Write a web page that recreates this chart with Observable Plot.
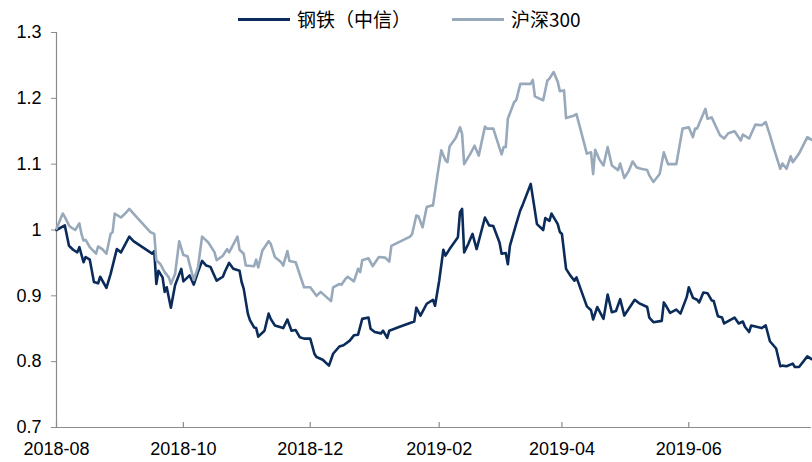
<!DOCTYPE html>
<html><head><meta charset="utf-8">
<script src="https://cdn.jsdelivr.net/npm/d3@7"></script>
<script src="https://cdn.jsdelivr.net/npm/@observablehq/plot@0.6"></script>
<style>
body{margin:0;background:#fff;font-family:"Liberation Sans",Arial,"Noto Sans CJK SC",sans-serif;}
#wrap{position:relative;width:812px;height:462px;}
#legend{position:absolute;top:6px;left:238px;display:flex;align-items:center;font-size:19px;color:#000;font-family:"Noto Sans CJK SC","Liberation Sans",sans-serif;line-height:26px;}
#legend .item{display:flex;align-items:center;}
#legend .sw{display:inline-block;width:52px;height:3px;margin-right:7px;}
</style></head>
<body><div id="wrap"><div id="legend"></div></div>
<script>
const seriesNames = ["钢铁（中信）", "沪深300"];
const seriesColors = ["#0b2c5a", "#98a9bb"];
const yTicks = [0.7, 0.8, 0.9, 1.0, 1.1, 1.2, 1.3];
const xTicks = ["2018-08-01","2018-10-01","2018-12-01","2019-02-01","2019-04-01","2019-06-01"];
const xDomain = ["2018-08-01","2019-07-30"];

const steelDates = ["2018-08-01","2018-08-05","2018-08-07","2018-08-09","2018-08-11","2018-08-12","2018-08-14","2018-08-15","2018-08-17","2018-08-19","2018-08-21","2018-08-22","2018-08-25","2018-08-27","2018-08-30","2018-09-01","2018-09-05","2018-09-07","2018-09-16","2018-09-17","2018-09-18","2018-09-19","2018-09-21","2018-09-22","2018-09-23","2018-09-25","2018-09-27","2018-09-30","2018-10-01","2018-10-04","2018-10-06","2018-10-08","2018-10-10","2018-10-12","2018-10-14","2018-10-17","2018-10-20","2018-10-21","2018-10-23","2018-10-25","2018-10-28","2018-10-29","2018-10-30","2018-11-01","2018-11-02","2018-11-04","2018-11-05","2018-11-06","2018-11-09","2018-11-11","2018-11-12","2018-11-14","2018-11-16","2018-11-18","2018-11-20","2018-11-22","2018-11-24","2018-11-26","2018-11-28","2018-12-01","2018-12-03","2018-12-04","2018-12-07","2018-12-10","2018-12-12","2018-12-15","2018-12-17","2018-12-20","2018-12-22","2018-12-24","2018-12-26","2018-12-29","2018-12-30","2019-01-01","2019-01-04","2019-01-05","2019-01-07","2019-01-08","2019-01-13","2019-01-20","2019-01-21","2019-01-23","2019-01-26","2019-01-29","2019-01-30","2019-02-01","2019-02-03","2019-02-04","2019-02-06","2019-02-10","2019-02-11","2019-02-12","2019-02-13","2019-02-15","2019-02-17","2019-02-19","2019-02-23","2019-02-25","2019-02-27","2019-03-02","2019-03-03","2019-03-05","2019-03-06","2019-03-07","2019-03-10","2019-03-12","2019-03-13","2019-03-17","2019-03-18","2019-03-20","2019-03-23","2019-03-24","2019-03-26","2019-03-27","2019-03-30","2019-03-31","2019-04-01","2019-04-03","2019-04-05","2019-04-07","2019-04-08","2019-04-13","2019-04-15","2019-04-16","2019-04-18","2019-04-21","2019-04-23","2019-04-25","2019-04-27","2019-04-29","2019-05-01","2019-05-06","2019-05-08","2019-05-12","2019-05-13","2019-05-15","2019-05-19","2019-05-20","2019-05-21","2019-05-23","2019-05-26","2019-05-28","2019-05-31","2019-06-01","2019-06-03","2019-06-05","2019-06-06","2019-06-08","2019-06-10","2019-06-12","2019-06-13","2019-06-15","2019-06-17","2019-06-18","2019-06-23","2019-06-25","2019-06-27","2019-06-28","2019-06-30","2019-07-01","2019-07-06","2019-07-08","2019-07-10","2019-07-13","2019-07-15","2019-07-16","2019-07-18","2019-07-21","2019-07-22","2019-07-24","2019-07-28","2019-07-30"];
const steelValues = [1.000,1.007,0.976,0.970,0.966,0.974,0.951,0.959,0.955,0.921,0.919,0.929,0.912,0.933,0.971,0.966,0.990,0.983,0.964,0.968,0.918,0.938,0.928,0.906,0.913,0.882,0.916,0.941,0.922,0.931,0.917,0.936,0.953,0.946,0.944,0.923,0.929,0.937,0.950,0.941,0.938,0.921,0.911,0.873,0.863,0.852,0.851,0.838,0.847,0.873,0.865,0.855,0.853,0.851,0.864,0.847,0.848,0.837,0.835,0.835,0.812,0.807,0.803,0.794,0.812,0.823,0.825,0.832,0.840,0.841,0.865,0.867,0.850,0.845,0.843,0.847,0.836,0.847,0.853,0.861,0.882,0.870,0.888,0.894,0.885,0.923,0.970,0.961,0.971,0.989,1.027,1.032,0.966,0.979,0.994,0.971,1.019,1.007,1.006,0.981,0.964,0.965,0.948,0.976,1.009,1.030,1.037,1.070,1.050,1.009,1.000,1.018,1.014,1.025,1.009,0.997,0.994,0.941,0.931,0.923,0.928,0.884,0.878,0.864,0.883,0.865,0.902,0.875,0.877,0.895,0.870,0.894,0.889,0.883,0.867,0.860,0.862,0.890,0.885,0.874,0.879,0.873,0.898,0.913,0.897,0.894,0.890,0.905,0.904,0.893,0.892,0.869,0.867,0.858,0.867,0.858,0.861,0.853,0.845,0.855,0.851,0.855,0.831,0.820,0.793,0.794,0.793,0.797,0.792,0.792,0.808,0.804];

const hsDates = ["2018-08-01","2018-08-04","2018-08-05","2018-08-07","2018-08-08","2018-08-10","2018-08-12","2018-08-13","2018-08-14","2018-08-15","2018-08-17","2018-08-20","2018-08-21","2018-08-23","2018-08-25","2018-08-27","2018-08-28","2018-08-29","2018-09-01","2018-09-02","2018-09-03","2018-09-05","2018-09-07","2018-09-15","2018-09-17","2018-09-18","2018-09-20","2018-09-22","2018-09-24","2018-09-25","2018-09-27","2018-09-29","2018-10-01","2018-10-03","2018-10-06","2018-10-08","2018-10-10","2018-10-13","2018-10-16","2018-10-17","2018-10-20","2018-10-22","2018-10-23","2018-10-27","2018-10-28","2018-10-30","2018-10-31","2018-11-04","2018-11-05","2018-11-06","2018-11-08","2018-11-11","2018-11-12","2018-11-14","2018-11-17","2018-11-18","2018-11-20","2018-11-21","2018-11-24","2018-11-28","2018-12-01","2018-12-04","2018-12-06","2018-12-11","2018-12-12","2018-12-15","2018-12-16","2018-12-18","2018-12-19","2018-12-22","2018-12-24","2018-12-25","2018-12-26","2018-12-29","2018-12-31","2019-01-03","2019-01-06","2019-01-08","2019-01-09","2019-01-18","2019-01-19","2019-01-21","2019-01-22","2019-01-24","2019-01-26","2019-01-28","2019-01-29","2019-01-31","2019-02-02","2019-02-04","2019-02-05","2019-02-06","2019-02-09","2019-02-11","2019-02-12","2019-02-13","2019-02-16","2019-02-18","2019-02-20","2019-02-23","2019-02-24","2019-02-27","2019-03-03","2019-03-04","2019-03-05","2019-03-06","2019-03-09","2019-03-10","2019-03-12","2019-03-15","2019-03-17","2019-03-18","2019-03-19","2019-03-23","2019-03-25","2019-03-26","2019-03-28","2019-03-30","2019-03-31","2019-04-02","2019-04-03","2019-04-07","2019-04-08","2019-04-13","2019-04-15","2019-04-16","2019-04-17","2019-04-19","2019-04-21","2019-04-23","2019-04-25","2019-04-28","2019-04-29","2019-05-01","2019-05-03","2019-05-05","2019-05-07","2019-05-09","2019-05-12","2019-05-13","2019-05-15","2019-05-18","2019-05-20","2019-05-22","2019-05-26","2019-05-29","2019-06-01","2019-06-03","2019-06-04","2019-06-05","2019-06-09","2019-06-10","2019-06-12","2019-06-16","2019-06-18","2019-06-20","2019-06-23","2019-06-26","2019-06-27","2019-06-30","2019-07-03","2019-07-06","2019-07-08","2019-07-10","2019-07-12","2019-07-15","2019-07-16","2019-07-18","2019-07-20","2019-07-21","2019-07-24","2019-07-28","2019-07-30"];
const hsValues = [1.002,1.025,1.020,1.007,1.004,1.000,1.010,0.994,0.984,0.985,0.974,0.964,0.975,0.971,0.964,0.994,0.997,1.025,1.019,1.022,1.025,1.032,1.025,0.997,0.994,0.954,0.948,0.936,0.928,0.918,0.933,0.983,0.962,0.960,0.924,0.943,0.990,0.981,0.966,0.954,0.961,0.971,0.966,0.990,0.970,0.964,0.946,0.945,0.955,0.943,0.969,0.983,0.979,0.959,0.951,0.946,0.968,0.953,0.951,0.913,0.913,0.900,0.906,0.892,0.913,0.918,0.917,0.926,0.929,0.922,0.941,0.936,0.954,0.957,0.945,0.959,0.958,0.952,0.976,0.990,0.994,1.022,1.021,1.004,1.035,1.037,1.037,1.080,1.121,1.106,1.103,1.127,1.140,1.156,1.146,1.100,1.116,1.128,1.113,1.157,1.154,1.154,1.115,1.126,1.126,1.169,1.194,1.197,1.222,1.222,1.222,1.228,1.203,1.197,1.227,1.230,1.240,1.225,1.211,1.212,1.170,1.174,1.176,1.116,1.118,1.085,1.122,1.107,1.098,1.126,1.098,1.091,1.101,1.079,1.089,1.104,1.095,1.093,1.091,1.083,1.073,1.085,1.118,1.100,1.100,1.154,1.156,1.141,1.154,1.154,1.184,1.169,1.171,1.144,1.139,1.147,1.150,1.136,1.145,1.139,1.160,1.159,1.164,1.144,1.123,1.093,1.101,1.093,1.112,1.103,1.116,1.141,1.137];

const steel = steelDates.map((d, i) => ({date: new Date(d), value: steelValues[i]}));
const hs = hsDates.map((d, i) => ({date: new Date(d), value: hsValues[i]}));
const xt = xTicks.map(d => new Date(d));
const axisColor = "#8c8c8c";

const chart = Plot.plot({
  width: 812, height: 462,
  marginTop: 32, marginBottom: 35, marginLeft: 56, marginRight: 1,
  style: {fontFamily: '"Liberation Sans", Arial, sans-serif', fontSize: "18px", color: "#000", background: "#fff"},
  x: {type: "utc", domain: xDomain.map(d => new Date(d)), label: null},
  y: {domain: [0.7, 1.3], label: null},
  marks: [
    Plot.ruleY([0.7], {stroke: axisColor, strokeWidth: 1.2}),
    Plot.ruleX([new Date(xDomain[0])], {stroke: axisColor, strokeWidth: 1.2}),
    Plot.ruleX(xt, {x: d => d, y1: 0.7, y2: 0.7, insetTop: -5, stroke: axisColor, strokeWidth: 1.2}),
    Plot.axisX({ticks: xt, tickSize: 0, tickPadding: 15, tickFormat: d3.utcFormat("%Y-%m"), fill: "#000", fontSize: 18, label: null}),
    Plot.axisY({ticks: yTicks, tickSize: 5, tickPadding: 10, tickFormat: d => d3.format("~g")(+d.toFixed(1)), stroke: axisColor, fill: "#000", fontSize: 18, label: null}),
    Plot.line(steel, {x: "date", y: "value", stroke: seriesColors[0], strokeWidth: 2.6}),
    Plot.line(hs, {x: "date", y: "value", stroke: seriesColors[1], strokeWidth: 2.6})
  ]
});
document.getElementById("wrap").appendChild(chart);

const legend = document.getElementById("legend");
seriesNames.forEach((name, i) => {
  const item = document.createElement("span");
  item.className = "item";
  if (i > 0) item.style.marginLeft = "41px";
  const sw = document.createElement("span");
  sw.className = "sw";
  sw.style.background = seriesColors[i];
  item.appendChild(sw);
  const t = document.createElement("span");
  t.textContent = name;
  item.appendChild(t);
  legend.appendChild(item);
});
</script>
</body></html>
